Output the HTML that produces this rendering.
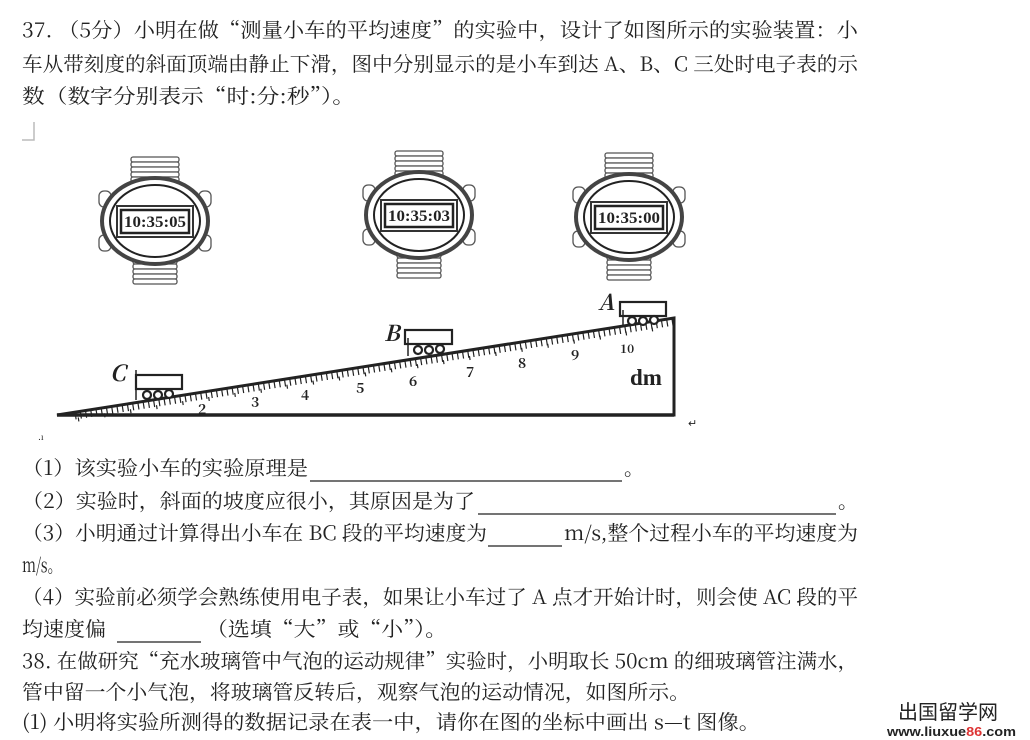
<!DOCTYPE html>
<html><head><meta charset="utf-8"><style>
body{margin:0;background:#fff;width:1030px;height:740px;overflow:hidden}
svg{display:block}
text{font-family:"Noto Serif CJK SC","Liberation Serif",serif;fill:#222}
.t{font-size:20px}
</style></head><body>
<svg width="1030" height="740" viewBox="0 0 1030 740">
<g class="t">
<text x="22" y="37" textLength="836" lengthAdjust="spacingAndGlyphs">37. （5分）小明在做“测量小车的平均速度”的实验中，设计了如图所示的实验装置：小</text>
<text x="22" y="71" textLength="836" lengthAdjust="spacingAndGlyphs">车从带刻度的斜面顶端由静止下滑，图中分别显示的是小车到达 A、B、C 三处时电子表的示</text>
<text x="22" y="103" textLength="333" lengthAdjust="spacingAndGlyphs">数（数字分别表示“时:分:秒”）。</text>

<text x="22" y="475" textLength="286" lengthAdjust="spacingAndGlyphs">（1）该实验小车的实验原理是</text>
<text x="624" y="475">。</text>
<text x="22" y="508" textLength="453" lengthAdjust="spacingAndGlyphs">（2）实验时，斜面的坡度应很小，其原因是为了</text>
<text x="838" y="508">。</text>
<text x="22" y="540" textLength="465" lengthAdjust="spacingAndGlyphs">（3）小明通过计算得出小车在 BC 段的平均速度为</text>
<text x="564" y="540" textLength="294" lengthAdjust="spacingAndGlyphs">m/s,整个过程小车的平均速度为</text>
<text x="22" y="572" textLength="40" lengthAdjust="spacingAndGlyphs">m/s。</text>
<text x="22" y="604" textLength="836" lengthAdjust="spacingAndGlyphs">（4）实验前必须学会熟练使用电子表，如果让小车过了 A 点才开始计时，则会使 AC 段的平</text>
<text x="22" y="636" textLength="84" lengthAdjust="spacingAndGlyphs">均速度偏</text>
<text x="206" y="636" textLength="241" lengthAdjust="spacingAndGlyphs">（选填“大”或“小”）。</text>
<text x="22" y="668" textLength="836" lengthAdjust="spacingAndGlyphs">38. 在做研究“充水玻璃管中气泡的运动规律”实验时，小明取长 50cm 的细玻璃管注满水，</text>
<text x="22" y="699" textLength="668" lengthAdjust="spacingAndGlyphs">管中留一个小气泡，将玻璃管反转后，观察气泡的运动情况，如图所示。</text>
<text x="22" y="729" textLength="738" lengthAdjust="spacingAndGlyphs">(1) 小明将实验所测得的数据记录在表一中，请你在图的坐标中画出 s—t 图像。</text>
</g>
<g stroke="#222" stroke-width="1.3">
<line x1="310" y1="481" x2="622" y2="481"/>
<line x1="478" y1="514" x2="836" y2="514"/>
<line x1="488" y1="546" x2="562" y2="546"/>
<line x1="117" y1="642" x2="201" y2="642"/>
</g>
<text x="898" y="719" font-size="20" style="font-family:'Noto Sans CJK SC',sans-serif" fill="#333" textLength="100" lengthAdjust="spacingAndGlyphs">出国留学网</text>
<text x="887" y="736" font-size="13" style="font-family:'Liberation Sans',sans-serif" fill="#2a4f9a" font-weight="bold" textLength="129" lengthAdjust="spacingAndGlyphs">www.liuxue<tspan fill="#d33">86</tspan>.com</text>
<path d="M34 122 V140 H22" fill="none" stroke="#bbb" stroke-width="1.5"/>
<text x="688" y="427" font-size="11" fill="#888">↵</text>
<text x="38" y="440" font-size="9" fill="#888">.ı</text>

<defs>
<g id="w">
<g fill="#fff" stroke="#555" stroke-width="1.3">
<rect x="-24" y="-64" width="48" height="5" rx="2"/><rect x="-24" y="-59" width="48" height="5" rx="2"/><rect x="-24" y="-54" width="48" height="5" rx="2"/><rect x="-24" y="-49" width="48" height="5" rx="2"/><rect x="-24" y="-44" width="48" height="5" rx="2"/>
<rect x="-22" y="38" width="44" height="5" rx="2"/><rect x="-22" y="43" width="44" height="5" rx="2"/><rect x="-22" y="48" width="44" height="5" rx="2"/><rect x="-22" y="53" width="44" height="5" rx="2"/><rect x="-22" y="58" width="44" height="5" rx="2"/>
<rect x="-56" y="-30" width="12" height="16" rx="5"/><rect x="44" y="-30" width="12" height="16" rx="5"/>
<rect x="-56" y="14" width="12" height="16" rx="5"/><rect x="44" y="14" width="12" height="16" rx="5"/>
</g>
<ellipse cx="0" cy="0" rx="53" ry="43" fill="#fff" stroke="#444" stroke-width="4"/>
<ellipse cx="0" cy="0" rx="45" ry="36" fill="#fff" stroke="#222" stroke-width="2"/>
<rect x="-38" y="-15" width="76" height="31" fill="#fff" stroke="#333" stroke-width="2"/>
<rect x="-34" y="-11" width="68" height="23" fill="#fff" stroke="#222" stroke-width="2.5"/>
</g>
</defs>
<g transform="translate(155,221)"><use href="#w"/><text x="0" y="6" font-size="16" font-weight="bold" text-anchor="middle" style="font-family:'Liberation Serif',serif" textLength="62" lengthAdjust="spacingAndGlyphs">10:35:05</text></g>
<g transform="translate(419,215)"><use href="#w"/><text x="0" y="6" font-size="16" font-weight="bold" text-anchor="middle" style="font-family:'Liberation Serif',serif" textLength="62" lengthAdjust="spacingAndGlyphs">10:35:03</text></g>
<g transform="translate(629,217)"><use href="#w"/><text x="0" y="6" font-size="16" font-weight="bold" text-anchor="middle" style="font-family:'Liberation Serif',serif" textLength="62" lengthAdjust="spacingAndGlyphs">10:35:00</text></g>

<path d="M57 415 L674 318 L674 415 Z" fill="#fff" stroke="#222" stroke-width="3"/>
<line x1="57" y1="415" x2="674" y2="415" stroke="#222" stroke-width="3.5"/>
<line x1="75" y1="416" x2="674" y2="322" stroke="#222" stroke-width="7" stroke-dasharray="1.2 4.1"/>
<line x1="75" y1="420" x2="674" y2="326" stroke="#222" stroke-width="4" stroke-dasharray="1.2 25.2" stroke-dashoffset="-3"/>
<g font-size="14" font-weight="bold" style="font-family:'Liberation Serif',serif">
<text x="198" y="414">2</text><text x="251" y="407">3</text><text x="301" y="400">4</text><text x="356" y="393">5</text><text x="409" y="386">6</text><text x="466" y="377">7</text><text x="518" y="368">8</text><text x="571" y="360">9</text><text x="620" y="353" font-size="12">10</text>
</g>
<text x="630" y="385" font-size="23" font-weight="bold" style="font-family:'Liberation Serif',serif">dm</text>
<g fill="#fff" stroke="#222" stroke-width="2.2">
<rect x="136" y="375" width="46" height="14"/>
<circle cx="147" cy="395" r="4"/><circle cx="158" cy="395" r="4"/><circle cx="169" cy="394" r="4"/>
<rect x="405" y="330" width="47" height="14"/>
<circle cx="418" cy="350" r="4"/><circle cx="429" cy="350" r="4"/><circle cx="440" cy="349" r="4"/>
<rect x="620" y="302" width="46" height="14"/>
<circle cx="632" cy="321" r="4"/><circle cx="643" cy="321" r="4"/><circle cx="654" cy="320" r="4"/>
</g>
<g stroke="#222" stroke-width="1.5"><line x1="136" y1="370" x2="136" y2="400"/><line x1="408" y1="338" x2="408" y2="356"/><line x1="623" y1="310" x2="623" y2="326"/></g>
<g font-size="22" font-style="italic" font-weight="bold" style="font-family:'Liberation Serif',serif">
<text x="110" y="381">C</text><text x="384" y="341">B</text><text x="598" y="310">A</text>
</g>
</svg>
</body></html>
